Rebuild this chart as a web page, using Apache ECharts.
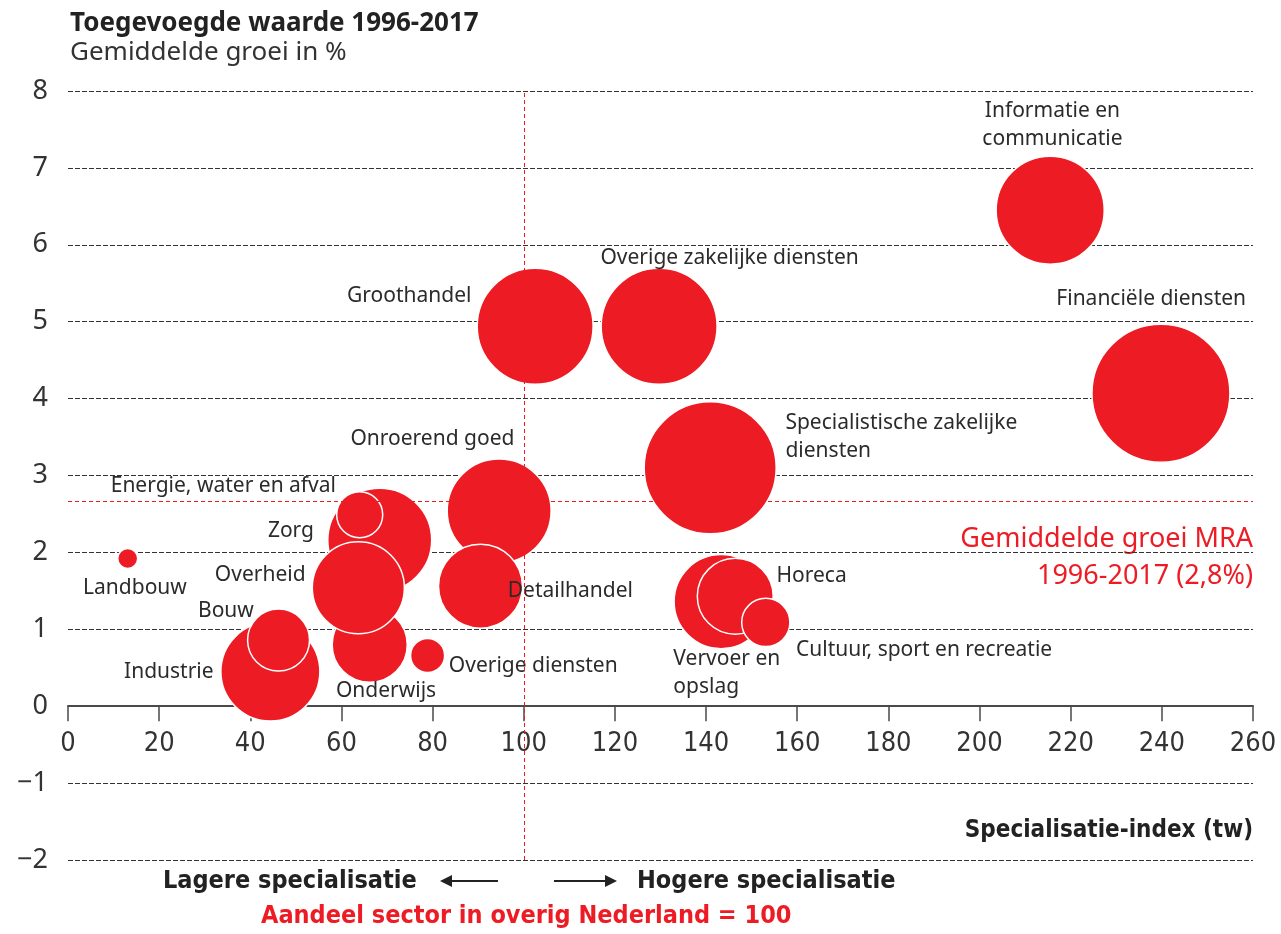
<!DOCTYPE html>
<html>
<head>
<meta charset="utf-8">
<script src="https://cdn.jsdelivr.net/npm/echarts@6/dist/echarts.min.js"></script>
<style>
html,body{margin:0;padding:0;background:#fff;}
#chart{width:1281px;height:934px;}
</style>
</head>
<body>
<div id="chart"></div>
<script>
// ---- data ----
const sectors = [
  'Financiële diensten', 'Informatie en\ncommunicatie', 'Groothandel', 'Overige zakelijke diensten',
  'Specialistische zakelijke\ndiensten', 'Industrie', 'Bouw', 'Zorg', 'Onderwijs', 'Overheid',
  'Energie, water en afval', 'Landbouw', 'Onroerend goed', 'Detailhandel', 'Overige diensten',
  'Vervoer en\nopslag', 'Horeca', 'Cultuur, sport en recreatie'
];
const specIndex = [239.8, 215.5, 102.5, 129.7, 140.9, 44.4, 46.2, 68.4, 66.2, 63.7, 64.0, 13.1, 94.6, 90.5, 78.9, 143.3, 146.4, 153.1];
const growth    = [4.07, 6.45, 4.94, 4.94, 3.10, 0.45, 0.86, 2.16, 0.80, 1.54, 2.49, 1.92, 2.54, 1.56, 0.66, 1.36, 1.43, 1.09];
const weight    = [47.6, 29.2, 33.6, 33.6, 43.6, 24.5, 9.6, 27.0, 14.1, 21.2, 5.3, 1.0, 27.0, 17.6, 2.9, 22.1, 14.4, 5.8];
const avgGrowthMRA = 2.66;   // red dashed reference line (as drawn)
const nlIndex = 100;         // Aandeel sector in overig Nederland = 100
const xTicks = { min: 0, max: 260, step: 20 };
const yTicks = { min: -2, max: 8, step: 1 };

// ---- label placement (style, not data): [align, dx, dy] from bubble centre ----
const labelPlace = {
  'Financiële diensten': ['center', -9, -93],
  'Informatie en\ncommunicatie': ['center', 3, -84],
  'Groothandel': ['right', -63, -30],
  'Overige zakelijke diensten': ['left', -58, -68],
  'Specialistische zakelijke\ndiensten': ['left', 76, -30],
  'Industrie': ['right', -56, 1],
  'Bouw': ['right', -24, -28],
  'Zorg': ['right', -65, -8],
  'Onderwijs': ['left', -33, 47],
  'Overheid': ['right', -52, -12],
  'Energie, water en afval': ['right', -23, -28],
  'Landbouw': ['center', 8, 30],
  'Onroerend goed': ['right', 16, -71],
  'Detailhandel': ['left', 28, 6],
  'Overige diensten': ['left', 22, 11],
  'Vervoer en\nopslag': ['left', -47, 72],
  'Horeca': ['left', 42, -19],
  'Cultuur, sport en recreatie': ['left', 31, 28]
};

const RED = '#ED1C24';
const TXT = '#2b2b2b';
const NARROW = "'Liberation Sans Narrow','DejaVu Sans Condensed','Roboto',sans-serif";
const SANS = "'Noto Sans','Lato',sans-serif";
const bubbleDiameter = w => 20 * Math.sqrt(w);

const points = sectors.map((s, i) => {
  const p = labelPlace[s];
  const r = bubbleDiameter(weight[i]) / 2;
  return {
    name: s,
    value: [specIndex[i], growth[i], weight[i]],
    label: { align: p[0], position: [r + p[1], r + p[2]] }
  };
});

const chart = echarts.init(document.getElementById('chart'), null, { renderer: 'canvas' });
chart.setOption({
  animation: false,
  backgroundColor: '#fff',
  title: {
    text: 'Toegevoegde waarde 1996-2017',
    subtext: 'Gemiddelde groei in %',
    left: 65, top: 6, itemGap: 3,
    textStyle: { fontFamily: SANS, fontSize: 26, fontWeight: 'bold', color: '#222' },
    subtextStyle: { fontFamily: SANS, fontSize: 26, color: '#333' }
  },
  grid: { left: 68, right: 28, top: 91, bottom: 74 },
  xAxis: {
    type: 'value', min: xTicks.min, max: xTicks.max, interval: xTicks.step,
    position: 'bottom', offset: 0,
    axisLine: { onZero: false, lineStyle: { color: '#4a4a4a', width: 2 } },
    axisTick: { show: true, length: 15, lineStyle: { color: '#4a4a4a', width: 1.5 } },
    axisLabel: { margin: 24, fontFamily: NARROW, fontSize: 27, color: '#333' },
    splitLine: { show: false }
  },
  yAxis: {
    type: 'value', min: yTicks.min, max: yTicks.max, interval: yTicks.step,
    axisLine: { show: false }, axisTick: { show: false },
    axisLabel: { margin: 20, fontFamily: SANS, fontSize: 27, color: '#333',
      formatter: v => String(v).replace('-', '\u2212') },
    splitLine: { show: true, lineStyle: { color: '#333', width: 1, type: [5, 2] } }
  },
  series: [{
    type: 'scatter',
    data: points,
    symbolSize: d => bubbleDiameter(d[2]),
    itemStyle: { color: RED, opacity: 1, borderColor: '#fff', borderWidth: 1.5 },
    emphasis: { disabled: true },
    label: {
      show: true, formatter: p => p.name,
      fontFamily: SANS, fontSize: 21, color: TXT, lineHeight: 28, verticalAlign: 'middle'
    },
    markLine: {
      silent: true, symbol: 'none', label: { show: false },
      lineStyle: { color: RED, width: 1, type: [4, 3] },
      data: [{ xAxis: nlIndex }, { yAxis: avgGrowthMRA }]
    },
    z: 3
  }],
  graphic: [
    { type: 'text', right: 28, top: 521,
      style: { text: 'Gemiddelde groei MRA\n1996-2017 (2,8%)', fill: RED, font: "27px 'Noto Sans',sans-serif",
        textAlign: 'right', lineHeight: 37 } },
    { type: 'text', right: 28, top: 819,
      style: { text: 'Specialisatie-index (tw)', fill: '#222', font: "bold 24px " + NARROW, textAlign: 'right' } },
    { type: 'text', left: 163, top: 869,
      style: { text: 'Lagere specialisatie', fill: '#222', font: "bold 25px " + NARROW } },
    { type: 'text', left: 637, top: 869,
      style: { text: 'Hogere specialisatie', fill: '#222', font: "bold 25px " + NARROW } },
    { type: 'text', left: 261, top: 904,
      style: { text: 'Aandeel sector in overig Nederland = 100', fill: RED, font: "bold 25px " + NARROW } },
    { type: 'line', shape: { x1: 443, y1: 881, x2: 498, y2: 881 }, style: { stroke: '#222', lineWidth: 2 } },
    { type: 'polygon', shape: { points: [[440, 881], [452, 875], [452, 887]] }, style: { fill: '#222' } },
    { type: 'line', shape: { x1: 554, y1: 881, x2: 612, y2: 881 }, style: { stroke: '#222', lineWidth: 2 } },
    { type: 'polygon', shape: { points: [[617, 881], [605, 875], [605, 887]] }, style: { fill: '#222' } }
  ]
});
// place the x axis on the y = 0 line (axis, ticks and labels together)
const yZero = chart.convertToPixel({ yAxisIndex: 0 }, 0);
const yBottom = chart.convertToPixel({ yAxisIndex: 0 }, yTicks.min);
chart.setOption({ xAxis: { offset: yZero - yBottom } });
</script>
</body>
</html>
